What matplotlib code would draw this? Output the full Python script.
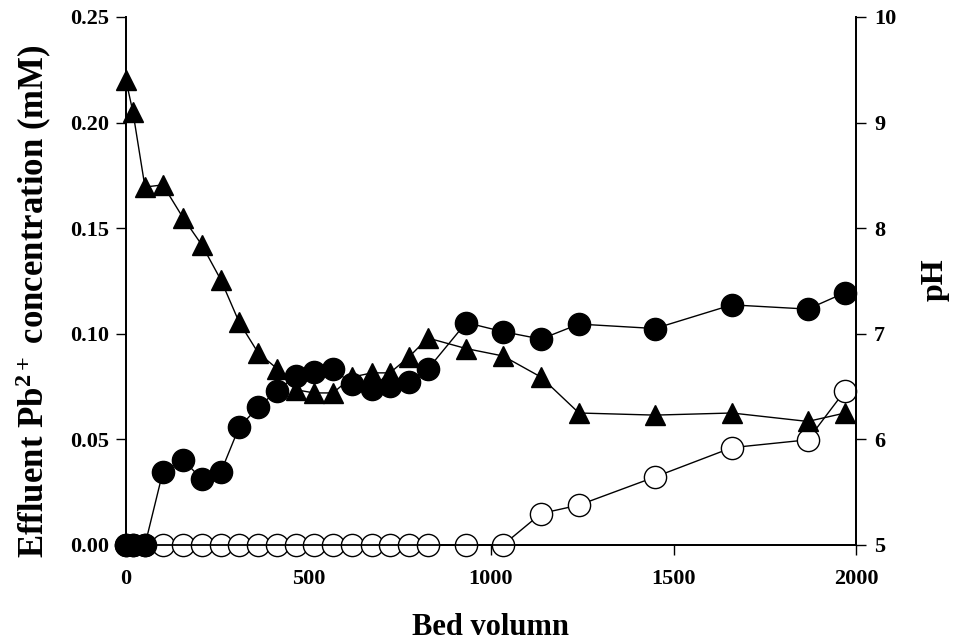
import matplotlib
matplotlib.use("Agg")
import matplotlib.pyplot as plt

bed_volume = [0, 19, 52, 101, 156, 208, 260, 310, 362, 414, 466, 515, 567, 619,
              674, 723, 775, 827, 932, 1033, 1137, 1241, 1449, 1660, 1868, 1970]
pb_filled = [0, 0, 0, 0.0346, 0.0404, 0.0311, 0.0346, 0.0558, 0.0652, 0.0731,
             0.0802, 0.0818, 0.0833, 0.0763, 0.0740, 0.0755, 0.0774, 0.0833,
             0.1053, 0.1010, 0.0975, 0.1046, 0.1025, 0.1137, 0.1117, 0.1195]
pb_open = [0, 0, 0, 0, 0, 0, 0, 0, 0, 0, 0, 0, 0, 0, 0, 0, 0, 0, 0, 0,
           0.0149, 0.0189, 0.0322, 0.0461, 0.0498, 0.0731]
ph_values = [9.40, 9.10, 8.39, 8.41, 8.10, 7.84, 7.51, 7.11, 6.82, 6.67,
             6.47, 6.44, 6.44, 6.59, 6.63, 6.63, 6.78, 6.96, 6.86, 6.79,
             6.59, 6.25, 6.23, 6.25, 6.17, 6.25]

x_ticks = [0, 500, 1000, 1500, 2000]
y_ticks = [0.00, 0.05, 0.10, 0.15, 0.20, 0.25]
ph_ticks = [5, 6, 7, 8, 9, 10]

plt.rcParams['font.family'] = ['Liberation Serif', 'DejaVu Serif']
plt.rcParams['font.weight'] = 'bold'
plt.rcParams['mathtext.fontset'] = 'custom'
plt.rcParams['mathtext.rm'] = 'Liberation Serif:bold'
plt.rcParams['mathtext.bf'] = 'Liberation Serif:bold'
plt.rcParams['mathtext.it'] = 'Liberation Serif:bold'

fig = plt.figure(figsize=(9.59, 6.44), dpi=100)
L, R, T, B = 126, 856, 17, 545
ax = fig.add_axes([L/959, 1-B/644, (R-L)/959, (B-T)/644])
ax2 = ax.twinx()

ax.plot(bed_volume, pb_open, '-', color='black', lw=1.0, marker='o', ms=16,
        mfc='white', mec='black', mew=1.0, clip_on=False, zorder=3)
ax.plot(bed_volume, pb_filled, '-', color='black', lw=1.0, marker='o', ms=16,
        mfc='black', mec='black', clip_on=False, zorder=4)
ax2.plot(bed_volume, ph_values, '-', color='black', lw=1.0, marker='^', ms=15,
         mfc='black', mec='black', clip_on=False, zorder=5)

ax.set_xlim(0, 2000)
ax.set_ylim(0, 0.25)
ax2.set_ylim(5, 10)
ax.set_xticks(x_ticks)
ax.set_xticklabels([str(v) for v in x_ticks])
ax.set_yticks(y_ticks)
ax.set_yticklabels([f"{v:.2f}" for v in y_ticks])
ax2.set_yticks(ph_ticks)
ax2.set_yticklabels([str(v) for v in ph_ticks])

for a in (ax, ax2):
    a.spines['top'].set_visible(False)
    for s in a.spines.values():
        s.set_linewidth(1.3)
    a.tick_params(direction='out', length=7, width=1.0, labelsize=16)
ax.tick_params(axis='x', pad=10)
ax.tick_params(axis='y', pad=5)
ax2.tick_params(axis='y', pad=6)

ax.set_xlabel('Bed volumn', fontsize=22, fontweight='bold')
ax.xaxis.set_label_coords(0.499, -0.128)
ax.set_ylabel('Effluent Pb$^{\\mathbf{2+}}$ concentration (mM)', fontsize=25,
              fontweight='bold')
ax.yaxis.set_label_coords(-0.099, 0.462)
ax2.set_ylabel('pH', fontsize=23, fontweight='bold')
ax2.yaxis.set_label_coords(1.089, 0.502)

fig.savefig('out.png', dpi=100)
